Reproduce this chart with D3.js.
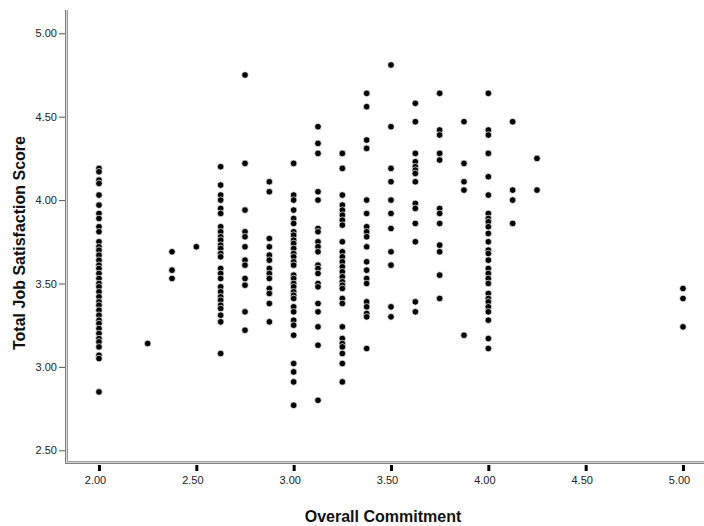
<!DOCTYPE html>
<html>
<head>
<meta charset="utf-8">
<script src="https://cdn.jsdelivr.net/npm/d3@7"></script>
<style>
  html, body { margin: 0; padding: 0; background: #fff; }
  svg { display: block; }
  text { font-family: "Liberation Sans", Arial, sans-serif; }
</style>
</head>
<body>
<svg id="chart" width="704" height="526"></svg>
<script>
// ---- data ----
const xTicks = [2.0, 2.5, 3.0, 3.5, 4.0, 4.5, 5.0];
const yTicks = [2.5, 3.0, 3.5, 4.0, 4.5, 5.0];
const xTitle = "Overall Commitment";
const yTitle = "Total Job Satisfaction Score";

const commitmentLevels = [2.0, 2.25, 2.375, 2.5, 2.625, 2.75, 2.875, 3.0, 3.125, 3.25, 3.375, 3.5, 3.625, 3.75, 3.875, 4.0, 4.125, 4.25, 5.0];

const sat_2000 = [4.19, 4.17, 4.12, 4.10, 4.03, 3.97, 3.92, 3.89, 3.84, 3.81,
  3.75, 3.72, 3.70, 3.67, 3.64, 3.61, 3.59, 3.56, 3.53, 3.50, 3.48, 3.45, 3.42, 3.39, 3.37, 3.34, 3.31, 3.28, 3.26, 3.23, 3.20, 3.17, 3.15,
  3.12, 3.07, 3.05, 2.85];
const sat_2250 = [3.14];
const sat_2375 = [3.69, 3.58, 3.53];
const sat_2500 = [3.72];
const sat_2625 = [4.20, 4.09, 4.03, 4.00, 3.95, 3.92, 3.84, 3.81, 3.78, 3.76, 3.73, 3.71, 3.68, 3.66,
  3.59, 3.56, 3.53, 3.48, 3.45, 3.42, 3.40, 3.37, 3.35, 3.31, 3.27, 3.08];
const sat_2750 = [4.75, 4.22, 3.94, 3.81, 3.78, 3.72, 3.64, 3.61, 3.53, 3.49, 3.33, 3.22];
const sat_2875 = [4.11, 4.05, 3.77, 3.72, 3.67, 3.64, 3.59, 3.56, 3.53, 3.47, 3.44, 3.38, 3.27];
const sat_3000 = [4.22, 4.03, 4.00, 3.94, 3.89, 3.86, 3.81, 3.79, 3.76, 3.74, 3.71, 3.68, 3.66, 3.63, 3.61,
  3.55, 3.53, 3.50, 3.48, 3.45, 3.43, 3.41, 3.36, 3.33, 3.28, 3.25, 3.19, 3.02, 2.97, 2.91, 2.77];
const sat_3125 = [4.44, 4.34, 4.28, 4.05, 4.00, 3.83, 3.81, 3.75, 3.72, 3.69, 3.61, 3.59, 3.56, 3.50, 3.48,
  3.38, 3.33, 3.24, 3.13, 2.80];
const sat_3250 = [4.28, 4.19, 4.03, 3.97, 3.94, 3.91, 3.88, 3.85, 3.75, 3.69, 3.66, 3.63, 3.60, 3.57, 3.54,
  3.51, 3.49, 3.47, 3.41, 3.38, 3.24, 3.17, 3.14, 3.12, 3.08, 3.02, 2.91];
const sat_3375 = [4.64, 4.56, 4.36, 4.31, 4.00, 3.92, 3.84, 3.81, 3.78, 3.72, 3.63, 3.58, 3.53, 3.50,
  3.39, 3.36, 3.32, 3.30, 3.11];
const sat_3500 = [4.81, 4.44, 4.19, 4.11, 4.00, 3.92, 3.83, 3.69, 3.61, 3.36, 3.30];
const sat_3625 = [4.58, 4.47, 4.28, 4.23, 4.20, 4.18, 4.16, 4.11, 3.98, 3.95, 3.86, 3.75, 3.39, 3.33];
const sat_3750 = [4.64, 4.42, 4.39, 4.28, 4.24, 3.95, 3.92, 3.86, 3.73, 3.69, 3.55, 3.41];
const sat_3875 = [4.47, 4.22, 4.11, 4.06, 3.19];
const sat_4000 = [4.64, 4.42, 4.39, 4.28, 4.14, 4.03, 3.92, 3.89, 3.87, 3.84, 3.80, 3.75, 3.70, 3.68, 3.64,
  3.59, 3.56, 3.53, 3.50, 3.44, 3.41, 3.39, 3.36, 3.33, 3.28, 3.17, 3.11];
const sat_4125 = [4.47, 4.06, 4.00, 3.86];
const sat_4250 = [4.25, 4.06];
const sat_5000 = [3.47, 3.41, 3.24];

const satByLevel = [sat_2000, sat_2250, sat_2375, sat_2500, sat_2625, sat_2750, sat_2875, sat_3000, sat_3125,
  sat_3250, sat_3375, sat_3500, sat_3625, sat_3750, sat_3875, sat_4000, sat_4125, sat_4250, sat_5000];

const points = [];
commitmentLevels.forEach((c, i) => satByLevel[i].forEach(s => points.push({x: c, y: s})));

// ---- drawing ----
const svg = d3.select("#chart");
const axisLeft = 66, axisBottom = 462, plotTop = 10, plotRight = 704;

const x = d3.scaleLinear().domain([2, 5]).range([99, 683]);
const y = d3.scaleLinear().domain([2.5, 5]).range([450.3, 33.3]);

// frame lines (double grey lines like SPSS)
const frame = svg.append("g");
frame.append("rect").attr("x", axisLeft - 1).attr("y", plotTop).attr("width", 3).attr("height", axisBottom + 2 - plotTop)
  .attr("fill", "#d8d8d8");
frame.append("rect").attr("x", axisLeft - 1).attr("y", axisBottom - 1).attr("width", plotRight - axisLeft + 1).attr("height", 3)
  .attr("fill", "#d8d8d8");
frame.append("line").attr("x1", axisLeft - 0.5).attr("x2", axisLeft - 0.5).attr("y1", plotTop).attr("y2", axisBottom + 2)
  .attr("stroke", "#808080").attr("stroke-width", 1);
frame.append("line").attr("x1", axisLeft + 1.5).attr("x2", axisLeft + 1.5).attr("y1", plotTop).attr("y2", axisBottom)
  .attr("stroke", "#9a9a9a").attr("stroke-width", 1);
frame.append("line").attr("x1", axisLeft - 1).attr("x2", plotRight).attr("y1", axisBottom + 1.5).attr("y2", axisBottom + 1.5)
  .attr("stroke", "#808080").attr("stroke-width", 1);
frame.append("line").attr("x1", axisLeft + 1).attr("x2", plotRight).attr("y1", axisBottom - 0.5).attr("y2", axisBottom - 0.5)
  .attr("stroke", "#9a9a9a").attr("stroke-width", 1);

// Y axis
const yAxis = d3.axisLeft(y).tickValues(yTicks).tickFormat(d3.format(".2f")).tickSize(6).tickPadding(2);
const gy = svg.append("g").attr("transform", `translate(${axisLeft - 1},0)`).call(yAxis);
gy.select(".domain").remove();
gy.selectAll(".tick line").attr("stroke", "#555");
gy.selectAll(".tick text").attr("fill", "#222").style("font-size", "11px");

// X axis
const xAxis = d3.axisBottom(x).tickValues(xTicks).tickFormat(d3.format(".2f")).tickSize(6).tickPadding(13);
const gx = svg.append("g").attr("transform", `translate(0,${axisBottom + 3})`).call(xAxis);
gx.select(".domain").remove();
gx.selectAll(".tick line").attr("stroke", "#000").attr("stroke-width", 3);
gx.selectAll(".tick text").attr("fill", "#222").attr("dx", -4).attr("dy", 0).style("font-size", "11px");

// titles
svg.append("text").attr("x", 383).attr("y", 522).attr("text-anchor", "middle")
  .style("font-size", "16px").style("font-weight", "bold").attr("fill", "#111").text(xTitle);
svg.append("text").attr("transform", "translate(25,243) rotate(-90)").attr("text-anchor", "middle")
  .style("font-size", "16px").style("font-weight", "bold").attr("fill", "#111").text(yTitle);

// points
svg.append("g").selectAll("circle").data(points).join("circle")
  .attr("cx", d => x(d.x)).attr("cy", d => y(d.y)).attr("r", 3.3)
  .attr("fill", "#000").attr("stroke", "#fff").attr("stroke-width", 0.7);
</script>
</body>
</html>
